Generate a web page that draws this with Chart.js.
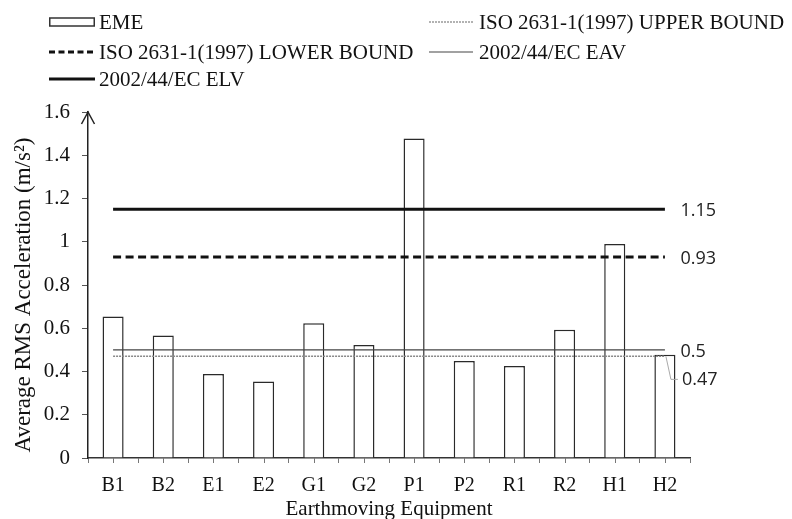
<!DOCTYPE html>
<html>
<head>
<meta charset="utf-8">
<script src="https://cdn.jsdelivr.net/npm/chart.js@4.4.0/dist/chart.umd.min.js"></script>
<style>
  html, body { margin: 0; padding: 0; background: #fff; }
  #wrap { position: relative; width: 792px; height: 519px; }
  #chart { position: absolute; left: 0; top: 0; }
  .leg { position: absolute; font: 21px "Liberation Serif", "Times New Roman", serif; color: #111; white-space: nowrap; line-height: 24px; }
  .leg svg { position: absolute; top: 0; }
</style>
</head>
<body>
<div id="wrap">
  <canvas id="chart" width="792" height="519"></canvas>
  <div id="legend"></div>
</div>
<script>
const categories = ["B1", "B2", "E1", "E2", "G1", "G2", "P1", "P2", "R1", "R2", "H1", "H2"];
const emeValues = [0.654, 0.566, 0.389, 0.354, 0.623, 0.523, 1.478, 0.449, 0.426, 0.593, 0.99, 0.477];

const isoUpper = 0.47;
const isoLower = 0.93;
const ecEav = 0.5;
const ecElv = 1.15;

const yTicks = [0, 0.2, 0.4, 0.6, 0.8, 1, 1.2, 1.4, 1.6];
const yTitle = "Average RMS Acceleration (m/s²)";

const legendItems = [
  { label: "EME", kind: "bar", x: 49, y: 10 },
  { label: "ISO 2631-1(1997) UPPER BOUND", kind: "upper", x: 429, y: 10 },
  { label: "ISO 2631-1(1997) LOWER BOUND", kind: "lower", x: 49, y: 40 },
  { label: "2002/44/EC EAV", kind: "eav", x: 429, y: 40 },
  { label: "2002/44/EC ELV", kind: "elv", x: 49, y: 67 },
];

// horizontal reference line spanning first..last category
function refLine(value) {
  return [
    { x: categories[0], y: value },
    { x: categories[categories.length - 1], y: value },
  ];
}

// build html legend
const legendEl = document.getElementById("legend");
legendItems.forEach((item) => {
  const div = document.createElement("div");
  div.className = "leg";
  div.style.left = item.x + "px";
  div.style.top = item.y + "px";
  let sym = "";
  if (item.kind === "bar") {
    sym = '<svg width="46" height="24"><rect x="0.75" y="8" width="44.5" height="8" fill="#fff" stroke="#333" stroke-width="1.5"/></svg>';
  } else if (item.kind === "lower") {
    sym = '<svg width="46" height="24"><line x1="0" y1="12" x2="46" y2="12" stroke="#111" stroke-width="3" stroke-dasharray="6 3.5"/></svg>';
  } else if (item.kind === "elv") {
    sym = '<svg width="46" height="24"><line x1="0" y1="12" x2="46" y2="12" stroke="#111" stroke-width="3"/></svg>';
  } else if (item.kind === "upper") {
    sym = '<svg width="44" height="24"><line x1="0" y1="12" x2="44" y2="12" stroke="#999" stroke-width="1.5" stroke-dasharray="2 1"/></svg>';
  } else {
    sym = '<svg width="44" height="24"><line x1="0" y1="12" x2="44" y2="12" stroke="#444" stroke-width="1.2"/></svg>';
  }
  div.innerHTML = sym + '<span style="margin-left:50px">' + item.label + "</span>";
  legendEl.appendChild(div);
});

const serif = '"Liberation Serif", "Times New Roman", serif';

const extras = {
  id: "extras",
  afterDraw(chart) {
    const ctx = chart.ctx;
    const xs = chart.scales.x;
    const ys = chart.scales.y;
    const left = chart.chartArea.left;
    ctx.save();

    // tick marks under each category centre
    ctx.strokeStyle = "#777";
    ctx.lineWidth = 1;
    categories.forEach((c, i) => {
      const px = Math.round(xs.getPixelForValue(i)) + 0.5;
      ctx.beginPath();
      ctx.moveTo(px, ys.bottom);
      ctx.lineTo(px, ys.bottom + 5);
      ctx.stroke();
    });

    // arrow head on the y axis
    const tip = ys.getPixelForValue(1.6);
    ctx.strokeStyle = "#222";
    ctx.lineWidth = 1.5;
    ctx.beginPath();
    ctx.moveTo(left - 6.5, tip + 12);
    ctx.lineTo(left, tip);
    ctx.lineTo(left + 6.5, tip + 12);
    ctx.stroke();

    // y axis title
    ctx.save();
    ctx.translate(24, 295);
    ctx.rotate(-Math.PI / 2);
    ctx.font = "23px " + serif;
    ctx.fillStyle = "#111";
    ctx.textAlign = "center";
    ctx.textBaseline = "middle";
    ctx.fillText(yTitle, 0, 0);
    ctx.restore();

    // value labels at the right end of each reference line
    ctx.font = '18px "Open Sans", sans-serif';
    ctx.fillStyle = "#222";
    ctx.textBaseline = "middle";
    ctx.textAlign = "left";
    chart.data.datasets.forEach((ds, di) => {
      if (ds.type !== "line") return;
      const pts = chart.getDatasetMeta(di).data;
      const p = pts[pts.length - 1];
      const txt = String(ds.data[ds.data.length - 1].y);
      if (ds.shiftLabel) {
        const ly = p.y + 23;
        ctx.strokeStyle = "#aaa";
        ctx.lineWidth = 1;
        ctx.beginPath();
        ctx.moveTo(p.x + 1, p.y);
        ctx.lineTo(p.x + 6, ly);
        ctx.lineTo(p.x + 13, ly);
        ctx.stroke();
        ctx.fillText(txt, p.x + 17, ly + 1);
      } else {
        ctx.fillText(txt, p.x + 15.5, p.y + 1.5);
      }
    });
    ctx.restore();
  },
};

new Chart(document.getElementById("chart"), {
  type: "bar",
  data: {
    labels: categories,
    datasets: [
      {
        type: "line",
        label: "ISO 2631-1(1997) UPPER BOUND",
        data: refLine(isoUpper),
        borderColor: "#888",
        borderWidth: 1.5,
        borderDash: [2, 1],
        pointRadius: 0,
        order: 0,
        shiftLabel: true,
      },
      {
        type: "line",
        label: "ISO 2631-1(1997) LOWER BOUND",
        data: refLine(isoLower),
        borderColor: "#111",
        borderWidth: 3,
        borderDash: [8, 4.5],
        pointRadius: 0,
        order: 0,
      },
      {
        type: "line",
        label: "2002/44/EC EAV",
        data: refLine(ecEav),
        borderColor: "#444",
        borderWidth: 1.2,
        pointRadius: 0,
        order: 0,
      },
      {
        type: "line",
        label: "2002/44/EC ELV",
        data: refLine(ecElv),
        borderColor: "#111",
        borderWidth: 3,
        pointRadius: 0,
        order: 0,
      },
      {
        label: "EME",
        data: emeValues,
        backgroundColor: "#fff",
        borderColor: "#2a2a2a",
        borderWidth: 1.5,
        borderSkipped: "bottom",
        barPercentage: 0.42,
        categoryPercentage: 1,
        order: 1,
      },
    ],
  },
  options: {
    responsive: false,
    animation: false,
    devicePixelRatio: 1,
    layout: {
      padding: { top: 112, right: 102, bottom: 0, left: 0 },
    },
    plugins: {
      legend: { display: false },
      tooltip: { enabled: false },
    },
    scales: {
      x: {
        offset: true,
        afterFit: (s) => {
          s.height = 61;
        },
        grid: {
          offset: true,
          drawOnChartArea: false,
          tickLength: 5,
          color: "#777",
        },
        border: { color: "#333", width: 1.5 },
        ticks: {
          color: "#111",
          font: { family: serif, size: 20 },
          padding: 11,
          maxRotation: 0,
        },
        title: {
          display: true,
          text: "Earthmoving Equipment",
          color: "#111",
          font: { family: serif, size: 21, lineHeight: 1 },
          padding: { top: 0, bottom: -1 },
        },
      },
      y: {
        min: 0,
        max: 1.6,
        afterFit: (s) => {
          s.width = 88;
        },
        afterBuildTicks: (s) => {
          s.ticks = yTicks.map((v) => ({ value: v }));
        },
        grid: {
          drawOnChartArea: false,
          tickLength: 6,
          color: "#555",
        },
        border: { color: "#222", width: 1.5 },
        ticks: {
          color: "#111",
          font: { family: serif, size: 21 },
          padding: 12,
          callback: (v) => String(Math.round(v * 10) / 10),
        },
      },
    },
  },
  plugins: [extras],
});
</script>
</body>
</html>
